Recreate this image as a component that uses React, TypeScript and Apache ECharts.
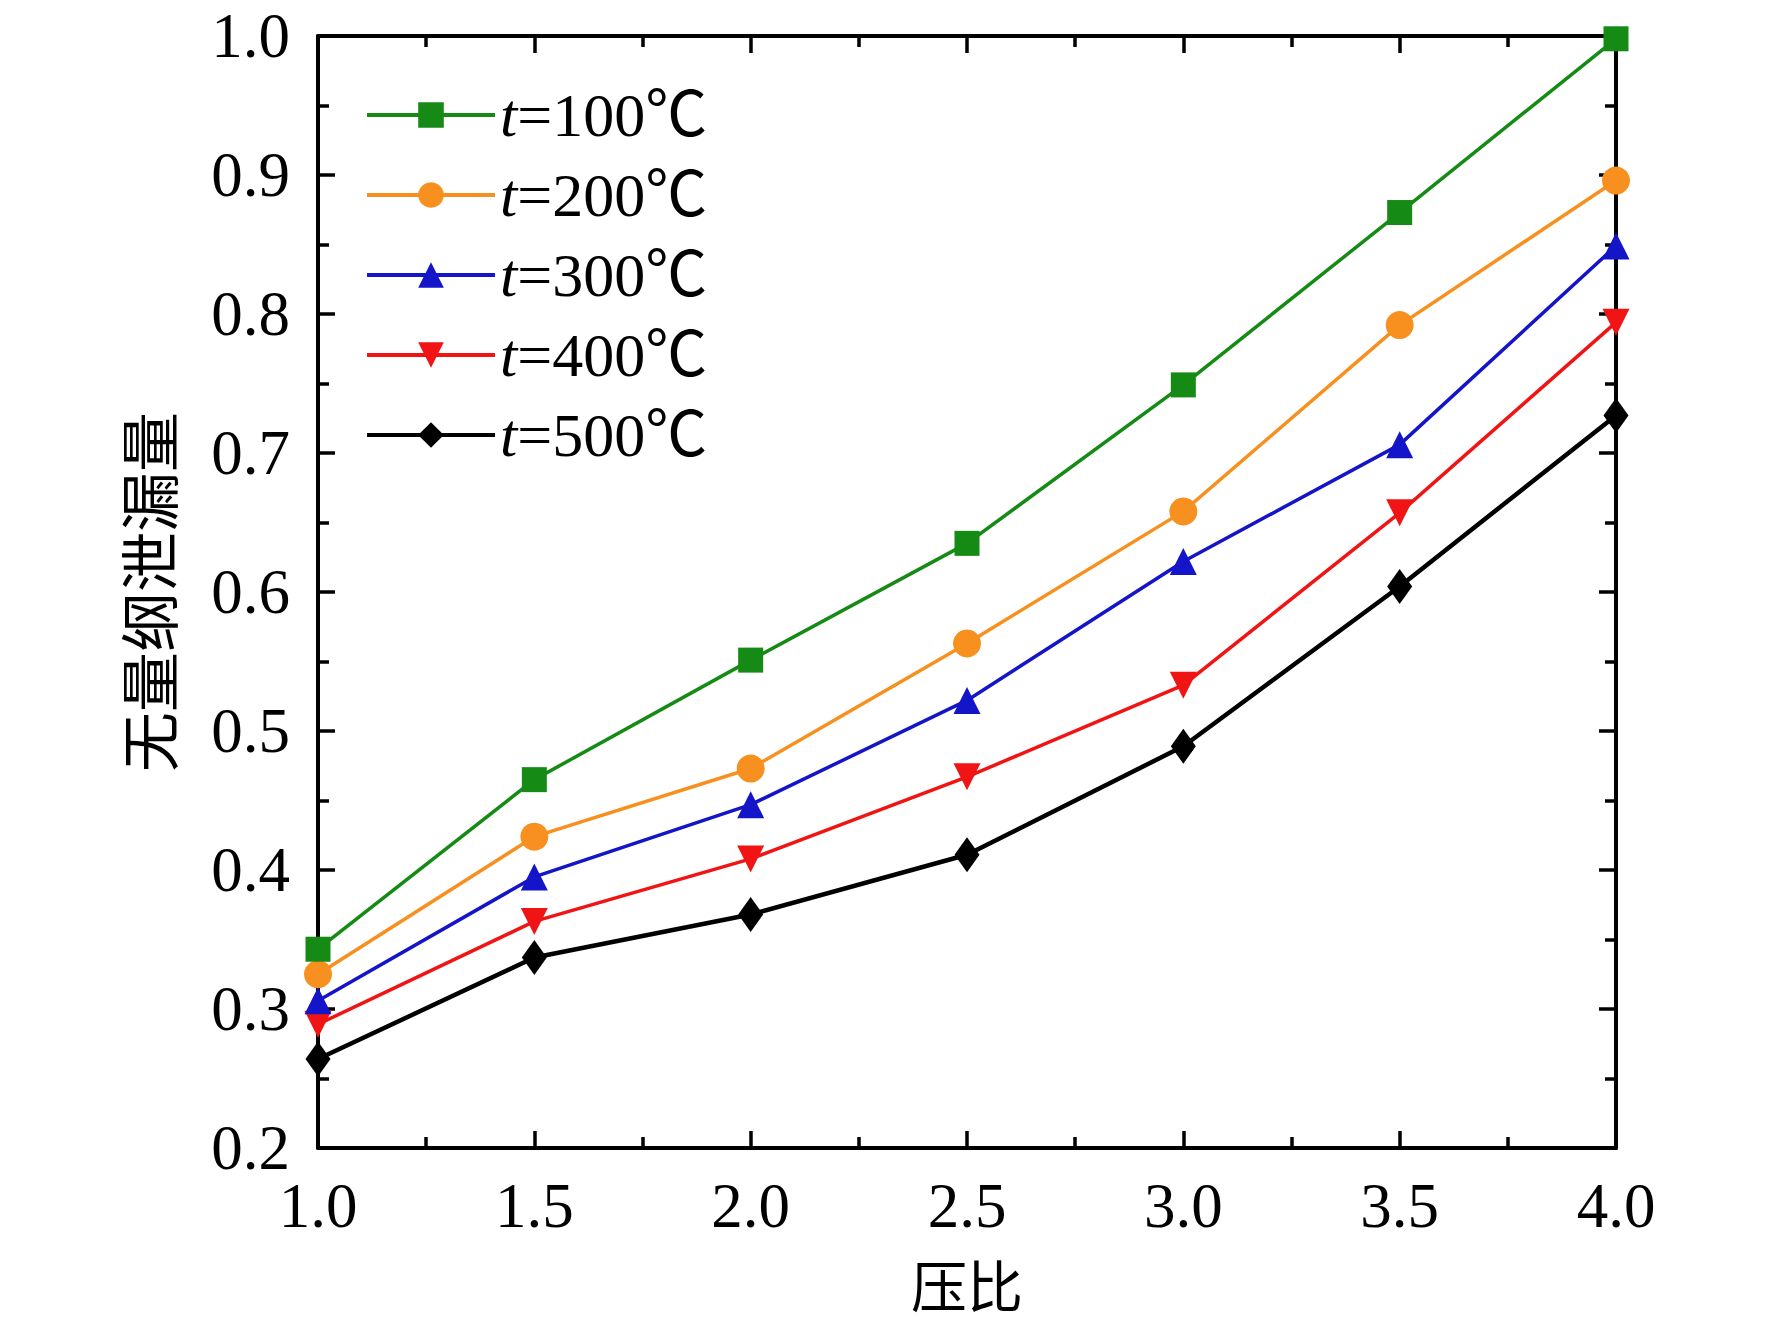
import React, { useEffect, useRef } from "react";
import * as echarts from "echarts";

const xValues = [1.0, 1.5, 2.0, 2.5, 3.0, 3.5, 4.0];
const seriesNames = ["t=100℃", "t=200℃", "t=300℃", "t=400℃", "t=500℃"];
const s100 = [0.343, 0.465, 0.551, 0.635, 0.749, 0.873, 0.998];
const s200 = [0.325, 0.424, 0.473, 0.563, 0.658, 0.792, 0.896];
const s300 = [0.306, 0.395, 0.447, 0.522, 0.622, 0.706, 0.849];
const s400 = [0.289, 0.363, 0.408, 0.467, 0.533, 0.657, 0.794];
const s500 = [0.264, 0.337, 0.368, 0.411, 0.489, 0.604, 0.727];
const colors = ["#158a15", "#f7901e", "#1414c8", "#f01414", "#000000"];

const FONT = "'Liberation Serif', 'Times New Roman', serif";
const CJK = "'Noto Sans CJK SC', sans-serif";

export default function App() {
  const ref = useRef<HTMLDivElement>(null);
  useEffect(() => {
    const chart = echarts.init(ref.current!, null, { renderer: "svg" });
    const all = [s100, s200, s300, s400, s500];
    const syms = ["rect", "circle", "triangle", "path://M0,0 L20,0 L10,18 Z", "diamond"];
    const sizes: any[] = [25, 28, 27, 27, [25, 35]];
    const widths = [3.5, 3.5, 3.5, 3.5, 4.5];
    const axisCommon = {
      type: "value" as const,
      axisLine: { show: true, lineStyle: { color: "#000", width: 4 } },
      axisTick: { show: true, inside: true, length: 17, lineStyle: { color: "#000", width: 3.5 } },
      minorTick: { show: true, splitNumber: 2, length: 11, lineStyle: { color: "#000", width: 3.5 } },
      splitLine: { show: false },
    };
    chart.setOption({
      animation: false,
      backgroundColor: "#ffffff",
      grid: { left: 318, right: 156, top: 36, bottom: 181 },
      legend: {
        orient: "vertical",
        left: 360,
        top: 79,
        itemWidth: 128,
        itemHeight: 32,
        itemGap: 18,
        data: seriesNames,
        lineStyle: { width: 4 },
        formatter: (name: string) => `{i|t}{n|${name.slice(1)}}`,
        textStyle: {
          padding: [0, 0, 0, 0],
          rich: {
            i: { fontFamily: FONT, fontStyle: "italic", fontSize: 62, color: "#000", lineHeight: 60 },
            n: { fontFamily: FONT + ", " + CJK, fontSize: 62, color: "#000", lineHeight: 60 },
          },
        },
      },
      xAxis: [
        {
          ...axisCommon,
          min: 1,
          max: 4,
          interval: 0.5,
          name: "压比",
          nameLocation: "middle",
          nameGap: 106,
          nameTextStyle: { fontFamily: CJK, fontSize: 56, lineHeight: 56, color: "#000" },
          axisLabel: {
            fontFamily: FONT,
            fontSize: 63,
            color: "#000",
            margin: 26,
            formatter: (v: number) => v.toFixed(1),
          },
        },
        {
          ...axisCommon,
          position: "top",
          min: 1,
          max: 4,
          interval: 0.5,
          axisLabel: { show: false },
        },
      ],
      yAxis: [
        {
          ...axisCommon,
          min: 0.2,
          max: 1.0,
          interval: 0.1,
          name: "无量纲泄漏量",
          nameLocation: "middle",
          nameGap: 142,
          nameTextStyle: { fontFamily: CJK, fontSize: 60, color: "#000" },
          axisLabel: {
            fontFamily: FONT,
            fontSize: 63,
            color: "#000",
            margin: 28,
            formatter: (v: number) => v.toFixed(1),
          },
        },
        {
          ...axisCommon,
          position: "right",
          min: 0.2,
          max: 1.0,
          interval: 0.1,
          axisLabel: { show: false },
        },
      ],
      series: seriesNames.map((name, i) => ({
        name,
        type: "line",
        xAxisIndex: 0,
        yAxisIndex: 0,
        data: xValues.map((x, j) => [x, all[i][j]]),
        symbol: syms[i],
        symbolSize: sizes[i],
        showAllSymbol: true,
        clip: false,
        lineStyle: { color: colors[i], width: widths[i] },
        itemStyle: { color: colors[i] },
        z: 10 - i,
      })),
    });
    return () => chart.dispose();
  }, []);
  return (
    <div
      ref={ref}
      style={{ position: "absolute", left: 0, top: 0, width: 1772, height: 1329 }}
    />
  );
}
